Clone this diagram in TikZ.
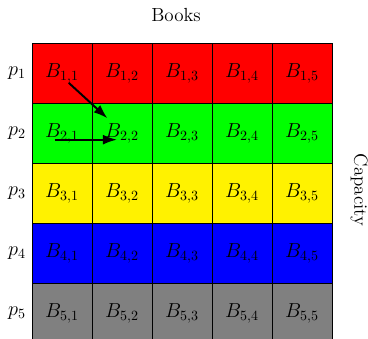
\documentclass[tikz,border=0pt]{standalone}
\usetikzlibrary{arrows.meta}
\begin{document}
\begin{tikzpicture}[x=0.025cm,y=-0.025cm,
  cell/.style={draw=black,line width=0.6pt,minimum size=1.5cm,inner sep=0pt,anchor=center},
  lbl/.style={inner sep=1pt,font=\fontsize{14}{17}\selectfont},
  side/.style={font=\fontsize{13.5}{16}\selectfont,inner sep=0pt},
  arr/.style={-{Latex[length=10pt,width=7pt]},line width=1.4pt}]
\useasboundingbox (0,0) rectangle (368,339);
\foreach \i/\col in {1/red,2/green,3/yellow,4/blue,5/gray}{
  \foreach \j in {1,...,5}{
    \node[cell,fill=\col] (c-\i-\j) at ({62+60*(\j-1)},{73+60*(\i-1)}) {};
    \node[lbl] (t-\i-\j) at (c-\i-\j.center) {$B_{\i,\j}$};
  }
  \node[lbl] (p-\i) at (17,{73+60*(\i-1)}) {$p_{\i}$};
}
\node[side] (books) at (176,15) {Books};
\node[side,rotate=-90] (cap) at (359,190) {Capacity};
\draw[arr] ([xshift=0.17cm,yshift=0.04cm]t-1-1.south) -- ([xshift=0.1cm,yshift=0.08cm]t-2-2.north west);
\draw[arr] ([xshift=0.28cm,yshift=0.12cm]t-2-1.south west) -- ([xshift=0.34cm,yshift=0.12cm]t-2-2.south west);
\end{tikzpicture}
\end{document}
